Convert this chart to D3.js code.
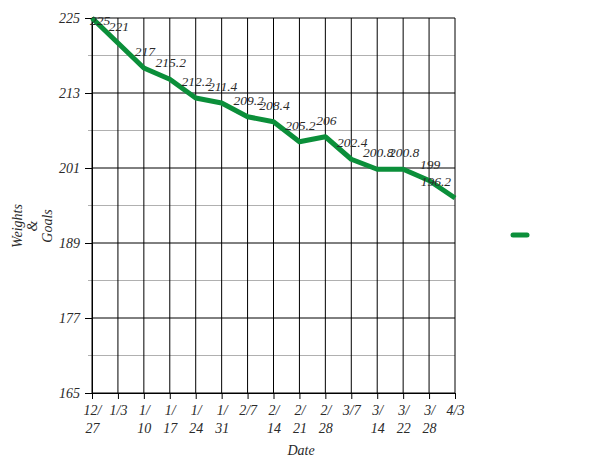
<!DOCTYPE html>
<html><head><meta charset="utf-8">
<script src="https://cdn.jsdelivr.net/npm/d3@7"></script>
<style>body{margin:0;background:#fff}svg{display:block}text{font-family:"Liberation Serif","DejaVu Serif",serif;font-style:italic;fill:#2a2a2a}</style>
</head><body><svg id="c" width="600" height="463"></svg>
<script>
const dates = ["12/27","1/3","1/10","1/17","1/24","1/31","2/7","2/14","2/21","2/28","3/7","3/14","3/22","3/28","4/3"];
const weights = [225,221,217,215.2,212.2,211.4,209.2,208.4,205.2,206,202.4,200.8,200.8,199,196.2];
const majorTicks = [165,177,189,201,213,225];
const minorTicks = [171,183,195,207,219];
const yTitle = ["Weights","&","Goals"];
const xTitle = "Date";

const svg = d3.select("#c");
const L=92,R=455,T=18,B=393;
const x = d3.scalePoint().domain(dates).range([L,R]);
const y = d3.scaleLinear().domain([165,225]).range([B,T]);

// minor gridlines
svg.append("g").selectAll("line").data(minorTicks).join("line")
  .attr("x1",88).attr("x2",R).attr("y1",d=>y(d)).attr("y2",d=>y(d))
  .attr("stroke","#b0b0b0").attr("stroke-width",1);
// vertical gridlines
svg.append("g").selectAll("line").data(dates).join("line")
  .attr("x1",d=>x(d)).attr("x2",d=>x(d)).attr("y1",T).attr("y2",B)
  .attr("stroke","#000").attr("stroke-width",1);
// major horizontal gridlines
svg.append("g").selectAll("line").data(majorTicks).join("line")
  .attr("x1",L).attr("x2",R).attr("y1",d=>y(d)).attr("y2",d=>y(d))
  .attr("stroke","#000").attr("stroke-width",1);

// y axis
const ya = svg.append("g").attr("transform",`translate(${L},0)`)
  .call(d3.axisLeft(y).tickValues(majorTicks).tickSize(7).tickPadding(5));
ya.select(".domain").attr("stroke","#000");
ya.selectAll("text").style("font-size","14px").attr("fill","#2a2a2a").attr("font-family",null);

// x axis
const xa = svg.append("g").attr("transform",`translate(0,${B})`)
  .call(d3.axisBottom(x).tickSize(6).tickPadding(6));
xa.select(".domain").attr("stroke","#000");
xa.selectAll(".tick text").each(function(d){
  const t=d3.select(this); t.text(null).style("font-size","14px").attr("font-family",null).attr("fill","#2a2a2a");
  const parts = d.length>3 ? [d.slice(0,d.indexOf("/")+1), d.slice(d.indexOf("/")+1)] : [d];
  parts.forEach((p,i)=>t.append("tspan").attr("x",0).attr("dy",i?"1.3em":"0.71em").text(p));
});

// line
svg.append("path").datum(weights)
  .attr("fill","none").attr("stroke","#0b8f3a").attr("stroke-width",5).attr("stroke-linejoin","round")
  .attr("d",d3.line().x((d,i)=>x(dates[i])).y(d=>y(d)));

// value labels (kept inside the plot area)
const n = weights.length;
svg.append("g").selectAll("text").data(weights).join("text")
  .attr("x",(d,i)=> i===0 ? L-2 : i===n-1 ? R-4 : x(dates[i])+1)
  .attr("text-anchor",(d,i)=> i===0 ? "start" : i===n-1 ? "end" : "middle")
  .attr("y",d=>Math.max(y(d)-12,25))
  .style("font-size","13.5px").text(d=>d);

// y title
const yt = svg.append("text").attr("transform","translate(32,226) rotate(-90)").attr("text-anchor","middle").style("font-size","14px");
yTitle.forEach((s,i)=>yt.append("tspan").attr("x",0).attr("y",(i-1)*15+5).text(s));

// x title
svg.append("text").attr("x",301).attr("y",455).attr("text-anchor","middle").style("font-size","14px").text(xTitle);

// legend
svg.append("line").attr("x1",513).attr("x2",527).attr("y1",235).attr("y2",235)
  .attr("stroke","#0b8f3a").attr("stroke-width",5).attr("stroke-linecap","round");
</script></body></html>
